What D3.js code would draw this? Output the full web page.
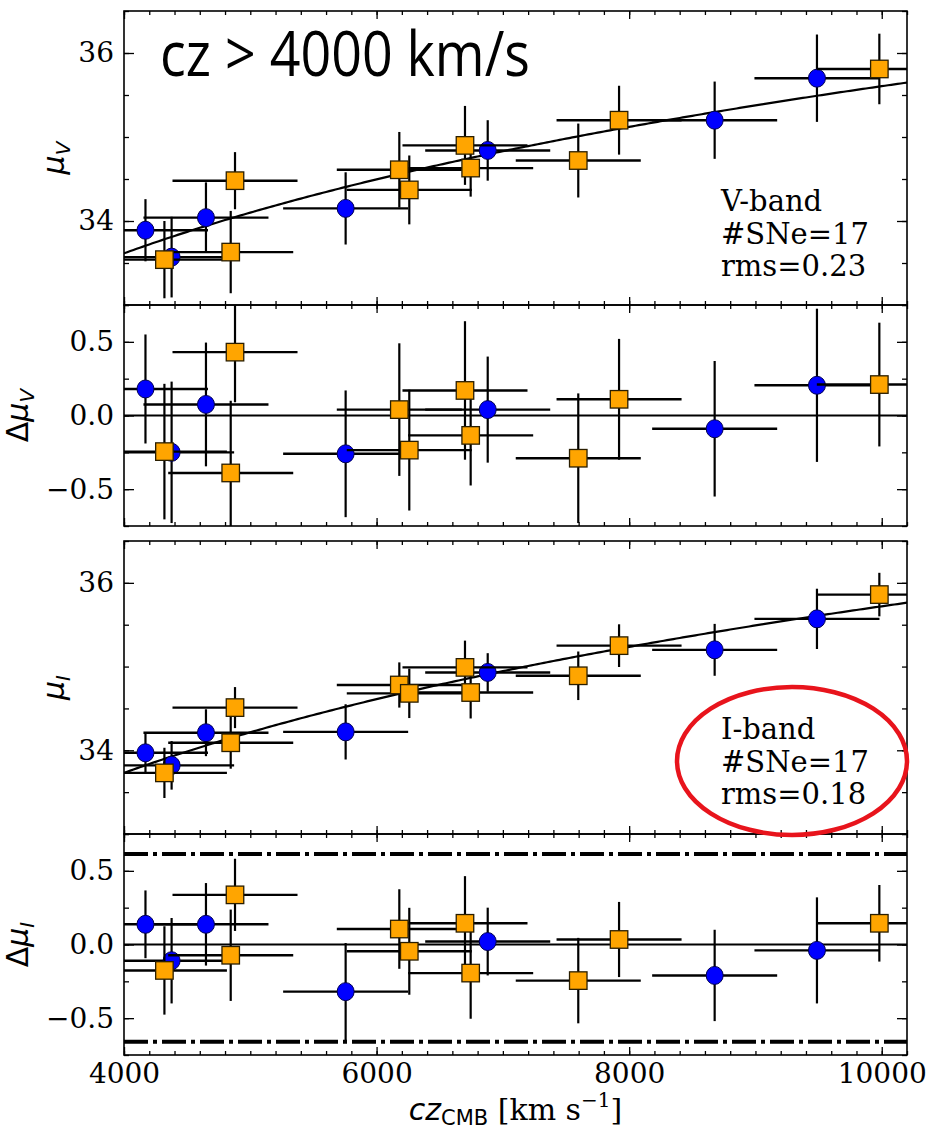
<!DOCTYPE html>
<html><head><meta charset="utf-8">
<script src="https://cdn.jsdelivr.net/npm/d3@7"></script>
<style>body{margin:0;background:#fff}svg{display:block}</style>
</head><body>
<svg id="c" width="935" height="1132"></svg>
<script>
// ---- data ----
const czBlue   = [4170, 4377, 4649, 5755, 6880, 8677, 9487];
const czOrange = [4320, 4845, 4879, 6180, 6259, 6700, 6745, 7597, 7920, 9981];
const czErrBlue   = [495, 495, 495, 495, 495, 495, 495];
const czErrOrange = [495, 495, 495, 495, 495, 495, 495, 495, 495, 495];

const muVBlue   = [33.89, 33.57, 34.04, 34.15, 34.84, 35.20, 35.70];
const muVOrange = [33.54, 33.63, 34.48, 34.61, 34.37, 34.90, 34.63, 34.72, 35.20, 35.81];
const dVBlue    = [0.18, -0.25, 0.075, -0.26, 0.04, -0.09, 0.205];
const dVOrange  = [-0.245, -0.39, 0.43, 0.04, -0.235, 0.17, -0.135, -0.29, 0.11, 0.21];
const errVBlue   = [0.37, 0.48, 0.42, 0.43, 0.36, 0.46, 0.52];
const errVOrange = [0.46, 0.49, 0.34, 0.45, 0.41, 0.47, 0.34, 0.44, 0.41, 0.42];

const muIBlue   = [33.97, 33.82, 34.21, 34.22, 34.93, 35.20, 35.57];
const muIOrange = [33.73, 34.09, 34.51, 34.78, 34.68, 34.99, 34.69, 34.89, 35.25, 35.86];
const dIBlue    = [0.137, -0.11, 0.137, -0.32, 0.02, -0.21, -0.04];
const dIOrange  = [-0.176, -0.073, 0.337, 0.105, -0.046, 0.144, -0.194, -0.245, 0.034, 0.144];
const errIBlue   = [0.23, 0.29, 0.28, 0.33, 0.23, 0.31, 0.36];
const errIOrange = [0.30, 0.31, 0.245, 0.27, 0.295, 0.32, 0.31, 0.29, 0.255, 0.26];

// Hubble-law fit zero points: mu = 5 log10(cz) + zp
const fitZeroPoint = {V: 15.605, I: 15.72};
const residLimitsI = [0.615, -0.66];

const xTicksMajor = [4000, 6000, 8000, 10000];
const muTicksMajor = [34, 36];
const dTicksMajor = [-0.5, 0.0, 0.5];
const annotV = ["V-band", "#SNe=17", "rms=0.23"];
const annotI = ["I-band", "#SNe=17", "rms=0.18"];

// ---- layout ----
const svg = d3.select("#c");
const L = 124, R = 907;
const x = d3.scaleLinear().domain([4000, 10200]).range([L, R]);
const xMinor = d3.range(4000, 10201, 200);
const serif = "DejaVu Serif";

const panels = [
  {top: 11, bottom: 305, dom: [33, 36.5], major: muTicksMajor, minor: d3.range(33, 36.51, 0.5), fmt: d3.format("d"),
   blue: muVBlue, orange: muVOrange, eb: errVBlue, eo: errVOrange, fit: "V", label: "mu", band: "V"},
  {top: 305, bottom: 526, dom: [-0.75, 0.75], major: dTicksMajor, minor: d3.range(-0.75, 0.76, 0.25), fmt: d3.format(".1f"),
   blue: dVBlue, orange: dVOrange, eb: errVBlue, eo: errVOrange, zero: true, label: "dmu", band: "V"},
  {top: 541, bottom: 834, dom: [33, 36.5], major: muTicksMajor, minor: d3.range(33, 36.51, 0.5), fmt: d3.format("d"),
   blue: muIBlue, orange: muIOrange, eb: errIBlue, eo: errIOrange, fit: "I", label: "mu", band: "I"},
  {top: 834, bottom: 1055, dom: [-0.75, 0.75], major: dTicksMajor, minor: d3.range(-0.75, 0.76, 0.25), fmt: d3.format(".1f"),
   blue: dIBlue, orange: dIOrange, eb: errIBlue, eo: errIOrange, zero: true, limits: residLimitsI, label: "dmu", band: "I", xlabels: true}
];

const defs = svg.append("defs");

panels.forEach((p, i) => {
  const y = d3.scaleLinear().domain(p.dom).range([p.bottom, p.top]);
  const cid = "clip" + i;
  defs.append("clipPath").attr("id", cid).append("rect")
    .attr("x", L).attr("y", p.top).attr("width", R - L).attr("height", p.bottom - p.top);
  const g = svg.append("g").attr("clip-path", `url(#${cid})`);

  if (p.fit) {
    const zp = fitZeroPoint[p.fit];
    const line = d3.line().x(d => x(d)).y(d => y(5 * Math.log10(d) + zp));
    g.append("path").attr("d", line(d3.range(3950, 10260, 25)))
      .attr("fill", "none").attr("stroke", "#000").attr("stroke-width", 2.2);
  }
  if (p.zero) {
    g.append("line").attr("x1", L).attr("x2", R).attr("y1", y(0)).attr("y2", y(0))
      .attr("stroke", "#000").attr("stroke-width", 2.2);
  }
  if (p.limits) {
    p.limits.forEach(v => g.append("line").attr("x1", L).attr("x2", R).attr("y1", y(v)).attr("y2", y(v))
      .attr("stroke", "#000").attr("stroke-width", 4).attr("stroke-dasharray", "24,5,4,5"));
  }

  const drawSeries = (cz, czErr, vals, errs, kind) => {
    const sg = g.append("g");
    cz.forEach((c, k) => {
      sg.append("line").attr("x1", x(c - czErr[k])).attr("x2", x(c + czErr[k]))
        .attr("y1", y(vals[k])).attr("y2", y(vals[k])).attr("stroke", "#000").attr("stroke-width", 2.4);
      sg.append("line").attr("x1", x(c)).attr("x2", x(c))
        .attr("y1", y(vals[k] - errs[k])).attr("y2", y(vals[k] + errs[k])).attr("stroke", "#000").attr("stroke-width", 2.2);
    });
    cz.forEach((c, k) => {
      if (kind === "circle") {
        sg.append("ellipse").attr("cx", x(c)).attr("cy", y(vals[k])).attr("rx", 8.5).attr("ry", 9)
          .attr("fill", "#0000ff").attr("stroke", "#000050").attr("stroke-width", 1);
      } else {
        const s = 17.5;
        sg.append("rect").attr("x", x(c) - s / 2).attr("y", y(vals[k]) - s / 2).attr("width", s).attr("height", s)
          .attr("fill", "#ffa500").attr("stroke", "#2a1e00").attr("stroke-width", 1.3);
      }
    });
  };
  drawSeries(czBlue, czErrBlue, p.blue, p.eb, "circle");
  drawSeries(czOrange, czErrOrange, p.orange, p.eo, "square");

  // frame
  svg.append("rect").attr("x", L).attr("y", p.top).attr("width", R - L).attr("height", p.bottom - p.top)
    .attr("fill", "none").attr("stroke", "#000").attr("stroke-width", 1.6);

  const tickStyle = sel => {
    sel.select(".domain").remove();
    sel.selectAll(".tick line").attr("stroke", "#000").attr("stroke-width", 1.3);
    sel.selectAll("text").attr("font-family", serif).attr("font-size", 28).attr("fill", "#000");
  };
  // x ticks bottom/top
  svg.append("g").attr("transform", `translate(0,${p.bottom})`)
    .call(d3.axisBottom(x).tickValues(xMinor).tickSize(-4).tickFormat("")).call(tickStyle);
  svg.append("g").attr("transform", `translate(0,${p.bottom})`)
    .call(d3.axisBottom(x).tickValues(xTicksMajor).tickSize(-8).tickPadding(8)
      .tickFormat(p.xlabels ? d3.format("d") : "")).call(tickStyle);
  svg.append("g").attr("transform", `translate(0,${p.top})`)
    .call(d3.axisTop(x).tickValues(xMinor).tickSize(-4).tickFormat("")).call(tickStyle);
  svg.append("g").attr("transform", `translate(0,${p.top})`)
    .call(d3.axisTop(x).tickValues(xTicksMajor).tickSize(-8).tickFormat("")).call(tickStyle);
  // y ticks left/right
  svg.append("g").attr("transform", `translate(${L},0)`)
    .call(d3.axisLeft(y).tickValues(p.minor).tickSize(-5).tickFormat("")).call(tickStyle);
  svg.append("g").attr("transform", `translate(${L},0)`)
    .call(d3.axisLeft(y).tickValues(p.major).tickSize(-10).tickPadding(10).tickFormat(p.fmt)).call(tickStyle);
  svg.append("g").attr("transform", `translate(${R},0)`)
    .call(d3.axisRight(y).tickValues(p.minor).tickSize(-5).tickFormat("")).call(tickStyle);
  svg.append("g").attr("transform", `translate(${R},0)`)
    .call(d3.axisRight(y).tickValues(p.major).tickSize(-10).tickFormat("")).call(tickStyle);

  // y label
  const cy = (p.top + p.bottom) / 2;
  const bx = p.label === "mu" ? 64 : 28;
  const t = svg.append("text").attr("transform", `translate(${bx},${cy}) rotate(-90)`)
    .attr("text-anchor", "middle").attr("font-family", "DejaVu Sans").attr("font-size", 30).attr("fill", "#000");
  if (p.label === "dmu") t.append("tspan").text("Δ");
  t.append("tspan").attr("font-style", "italic").text("μ");
  t.append("tspan").attr("font-style", "italic").attr("font-size", 20).attr("dy", 6).text(p.band);
});

// annotations
const annot = (lines, x0, y0) => {
  lines.forEach((s, k) => svg.append("text").attr("x", x0).attr("y", y0 + k * 32.7)
    .attr("font-family", serif).attr("font-size", 29).attr("fill", "#000").text(s));
};
annot(annotV, 721, 211);
annot(annotI, 721, 739);

// red ellipse highlight
svg.append("ellipse").attr("cx", 792).attr("cy", 761).attr("rx", 115).attr("ry", 74)
  .attr("fill", "none").attr("stroke", "#e8141c").attr("stroke-width", 4.5);

// title
svg.append("text").attr("x", 160).attr("y", 76).attr("font-family", "Open Sans").attr("font-size", 62)
  .attr("textLength", 370).attr("lengthAdjust", "spacingAndGlyphs").attr("fill", "#000").text("cz > 4000 km/s");

// x label
const xl = svg.append("text").attr("x", (L + R) / 2).attr("y", 1120).attr("text-anchor", "middle")
  .attr("font-size", 30).attr("fill", "#000");
xl.append("tspan").attr("font-family", "DejaVu Sans").attr("font-style", "italic").text("cz");
xl.append("tspan").attr("font-family", "DejaVu Sans").attr("font-size", 21).attr("dy", 5).text("CMB");
xl.append("tspan").attr("font-family", serif).attr("dy", -5).text(" [km s");
xl.append("tspan").attr("font-family", serif).attr("font-size", 20).attr("dy", -13).text("−1");
xl.append("tspan").attr("font-family", serif).attr("dy", 13).text("]");
</script>
</body></html>
